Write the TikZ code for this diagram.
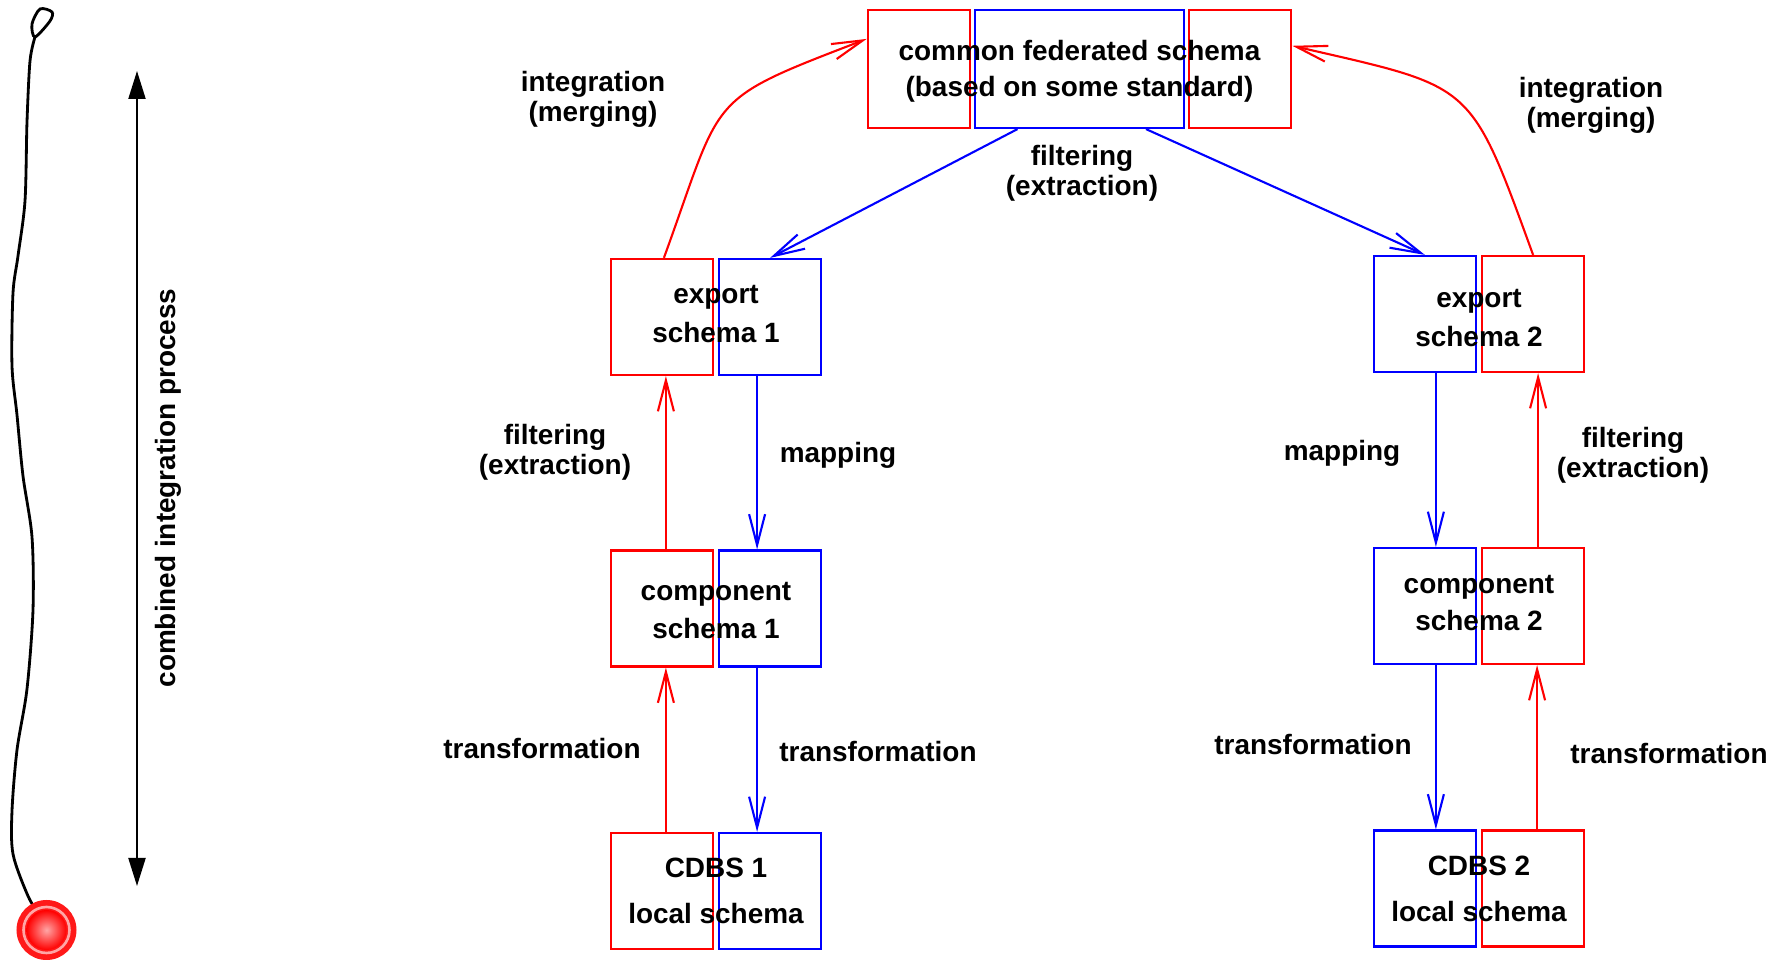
\documentclass[tikz,border=0pt]{standalone}
\usepackage{fontspec}
\setmainfont{Liberation Sans}
\usetikzlibrary{arrows.meta,positioning}
\tikzset{box/.style={draw, line width=1.25pt, minimum width=2.04cm, minimum height=2.32cm, inner sep=0pt},
redbox/.style={box, red},
bluebox/.style={box, blue},
lbl/.style={font=\fontsize{15.9}{17}\selectfont\bfseries, align=center, inner sep=0pt},
redarr/.style={->, red, line width=1.2pt},
bluearr/.style={->, blue, line width=1.2pt}
}

\begin{document}
\begin{tikzpicture}[> = {Straight Barb[length=0.62cm,width=0.32cm]}]
    \useasboundingbox (0,0) rectangle (35.84,19.22);

    \coordinate (fed)   at (21.59,17.84);
    \coordinate (exp1)  at (14.32,12.88);
    \coordinate (comp1) at (14.32,7.05);
    \coordinate (cdbs1) at (14.32,1.40);
    \coordinate (exp2)  at (29.58,12.94);
    \coordinate (comp2) at (29.58,7.10);
    \coordinate (cdbs2) at (29.58,1.45);

    \node[bluebox, minimum width=4.18cm, minimum height=2.36cm] (fedC) at (fed) {};
    \node[redbox, minimum height=2.36cm, left=0.06cm of fedC]  (fedL) {};
    \node[redbox, minimum height=2.36cm, right=0.06cm of fedC] (fedR) {};

    \node[redbox]  (exp1r)  [left=0.04cm of exp1]   {};
    \node[bluebox] (exp1b)  [right=0.04cm of exp1]  {};
    \node[redbox]  (comp1r) [left=0.04cm of comp1]  {};
    \node[bluebox] (comp1b) [right=0.04cm of comp1] {};
    \node[redbox]  (cdbs1r) [left=0.04cm of cdbs1]  {};
    \node[bluebox] (cdbs1b) [right=0.04cm of cdbs1] {};

    \node[bluebox] (exp2b)  [left=0.04cm of exp2]   {};
    \node[redbox]  (exp2r)  [right=0.04cm of exp2]  {};
    \node[bluebox] (comp2b) [left=0.04cm of comp2]  {};
    \node[redbox]  (comp2r) [right=0.04cm of comp2] {};
    \node[bluebox] (cdbs2b) [left=0.04cm of cdbs2]  {};
    \node[redbox]  (cdbs2r) [right=0.04cm of cdbs2] {};

    \node[lbl] (fedT)   at ([yshift=-0.04cm]fed)   {common federated schema\\[0.12cm](based on some standard)};
    \node[lbl] (exp1T)  at ([yshift=0.06cm]exp1)  {export\\[0.2cm]schema 1};
    \node[lbl] (comp1T) at ([yshift=-0.04cm]comp1) {component\\[0.16cm]schema 1};
    \node[lbl] (cdbs1T) at (cdbs1) {CDBS 1\\[0.32cm]local schema};
    \node[lbl] (exp2T)  at ([yshift=-0.08cm]exp2)  {export\\[0.2cm]schema 2};
    \node[lbl] (comp2T) at ([yshift=0.06cm]comp2) {component\\[0.16cm]schema 2};
    \node[lbl] (cdbs2T) at (cdbs2) {CDBS 2\\[0.32cm]local schema};

    \node[lbl] (intL)  at (11.86,17.24) {integration\\(merging)};
    \node[lbl] (intR)  at (31.82,17.12) {integration\\(merging)};
    \node[lbl] (filT)  at (21.64,15.76) {filtering\\(extraction)};
    \node[lbl] (filL)  at (11.10,10.18) {filtering\\(extraction)};
    \node[lbl] (filR)  at (32.66,10.11) {filtering\\(extraction)};
    \node[lbl] (mapL)  at (16.76,10.12) {mapping};
    \node[lbl] (mapR)  at (26.84,10.16) {mapping};
    \node[lbl] (traLL) at (10.84,4.24)  {transformation};
    \node[lbl] (traLR) at (17.56,4.18)  {transformation};
    \node[lbl] (traRL) at (26.26,4.32)  {transformation};
    \node[lbl] (traRR) at (33.38,4.14)  {transformation};

    \draw[redarr] ([xshift=0.04cm]exp1r.north) to [out=70,in=201,looseness=1.5]  (fedL.150);
    \draw[redarr] (exp2r.north) to [out=110,in=-13,looseness=1.5] (fedR.24);
    \draw[bluearr] ([xshift=-1.24cm]fedC.south) -- (exp1b.north);
    \draw[bluearr] ([xshift=1.33cm]fedC.south)  -- (exp2b.north);

    \draw[redarr]  ([xshift=0.08cm]cdbs1r.north) -- ([xshift=0.08cm]comp1r.south);
    \draw[redarr]  ([xshift=0.08cm]comp1r.north) -- ([xshift=0.08cm]exp1r.south);
    \draw[bluearr] ([xshift=-0.26cm]exp1b.south)  -- ([xshift=-0.26cm]comp1b.north);
    \draw[bluearr] ([xshift=-0.26cm]comp1b.south) -- ([xshift=-0.26cm]cdbs1b.north);

    \draw[redarr]  ([xshift=0.08cm]cdbs2r.north) -- ([xshift=0.08cm]comp2r.south);
    \draw[redarr]  ([xshift=0.1cm]comp2r.north)  -- ([xshift=0.1cm]exp2r.south);
    \draw[bluearr] ([xshift=0.22cm]exp2b.south)  -- ([xshift=0.22cm]comp2b.north);
    \draw[bluearr] ([xshift=0.22cm]comp2b.south) -- ([xshift=0.22cm]cdbs2b.north);

    % process arrow
    \coordinate (ptop) at (2.74,17.80);
    \coordinate (pbot) at (2.74,1.50);
    \draw[{Triangle[length=0.56cm,width=0.34cm]}-{Triangle[length=0.56cm,width=0.34cm]}, line width=1.2pt] (pbot) -- (ptop);
    \node[lbl, rotate=90] (proc) at (3.36,9.46) {combined integration process};

    % pin
    \draw[line width=1.6pt] plot[smooth cycle] coordinates {(0.64,18.74) (0.80,19.04) (1.04,18.98) (1.00,18.80) (0.70,18.48)};
    \draw[line width=1.6pt] plot[smooth] coordinates {(0.70,18.48) (0.60,18.00) (0.54,16.78) (0.50,15.20) (0.36,14.10) (0.26,13.36) (0.24,11.90) (0.34,10.92) (0.46,9.70) (0.64,8.48) (0.66,7.02) (0.54,5.44) (0.34,4.22) (0.24,3.00) (0.26,2.14) (0.56,1.30) (0.80,0.90)};
    \coordinate (ball) at (0.93,0.62);
    \fill[red!90!white] (ball) circle (0.6);
    \draw[white!65!red, line width=1.5pt] (ball) circle (0.46);
    \shade[inner color=red!35!white, outer color=red] (ball) circle (0.4);
\end{tikzpicture}
\end{document}
